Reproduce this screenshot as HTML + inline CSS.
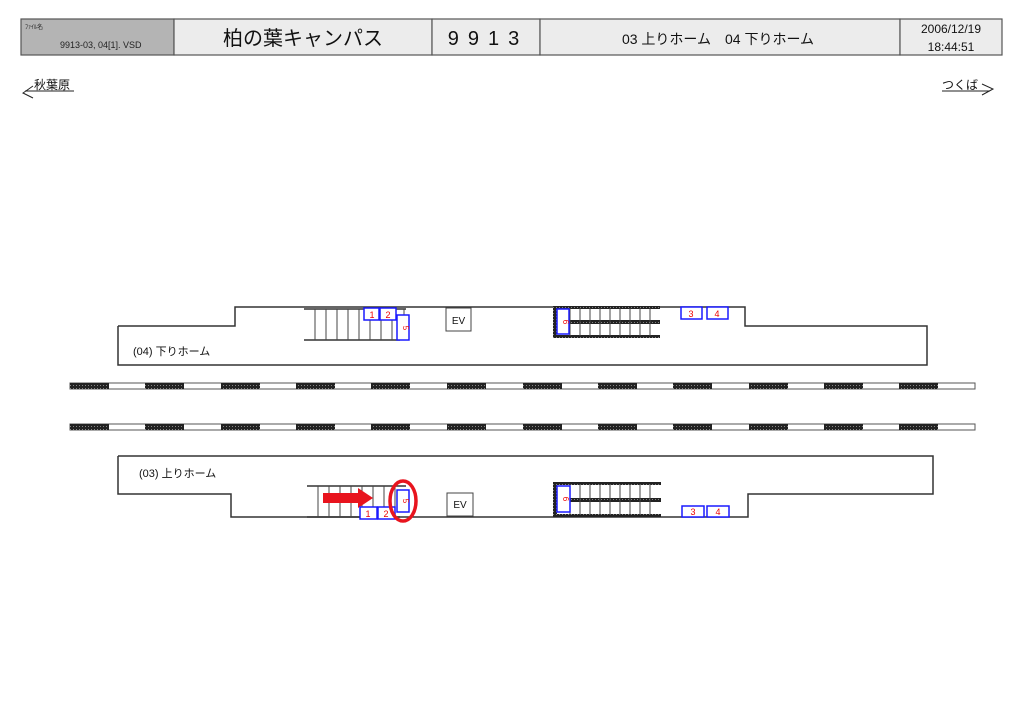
<!DOCTYPE html>
<html><head><meta charset="utf-8"><style>
html,body{margin:0;padding:0;background:#fff;width:1024px;height:724px;overflow:hidden}
svg{display:block}
text{font-family:"Liberation Sans","Noto Sans CJK JP",sans-serif}
</style></head><body>
<svg width="1024" height="724" viewBox="0 0 1024 724" xmlns="http://www.w3.org/2000/svg">
<defs>
<pattern id="h" width="3" height="3" patternUnits="userSpaceOnUse">
<rect width="3" height="3" fill="#222"/><rect x="1" y="1" width="0.8" height="0.8" fill="#bbb"/>
</pattern>
</defs>
<rect x="21" y="19" width="153" height="36" fill="#b4b4b4" stroke="#555" stroke-width="1.2"/>
<rect x="174" y="19" width="258" height="36" fill="#ececec" stroke="#555" stroke-width="1.2"/>
<rect x="432" y="19" width="108" height="36" fill="#ececec" stroke="#555" stroke-width="1.2"/>
<rect x="540" y="19" width="360" height="36" fill="#ececec" stroke="#555" stroke-width="1.2"/>
<rect x="900" y="19" width="102" height="36" fill="#ececec" stroke="#555" stroke-width="1.2"/>
<text x="25" y="29" font-size="6" fill="#222">ﾌｧｲﾙ名</text>
<text x="60" y="48" font-size="9" fill="#222">9913-03, 04[1]. VSD</text>
<text x="303" y="45" font-size="20" text-anchor="middle" fill="#111">柏の葉キャンパス</text>
<text x="488" y="45" font-size="20" text-anchor="middle" fill="#111" letter-spacing="9">9913</text>
<text x="718" y="44" font-size="14" text-anchor="middle" fill="#111">03 上りホーム　04 下りホーム</text>
<text x="951" y="33" font-size="12" text-anchor="middle" fill="#111">2006/12/19</text>
<text x="951" y="51" font-size="12" text-anchor="middle" fill="#111">18:44:51</text>
<text x="34" y="89" font-size="12" fill="#111">秋葉原</text>
<polyline points="74,91 25,91" fill="none" stroke="#222" stroke-width="1"/>
<polyline points="33,86 23,93 33,98" fill="none" stroke="#222" stroke-width="1"/>
<text x="942" y="89" font-size="12" fill="#111">つくば</text>
<line x1="942" y1="91" x2="990" y2="91" stroke="#222" stroke-width="1"/>
<polyline points="982,84 993,89 982,95" fill="none" stroke="#222" stroke-width="1"/>

<polyline points="118,326 235,326 235,307 745,307 745,326 927,326 927,365 118,365 118,326" fill="#fff" stroke="#333" stroke-width="1.5"/>
<text x="133" y="355" font-size="11" fill="#111">(04) 下りホーム</text>
<line x1="304" y1="309" x2="406" y2="309" stroke="#333" stroke-width="1.5"/>
<line x1="304" y1="340" x2="400" y2="340" stroke="#333" stroke-width="1.5"/>
<g stroke="#444" stroke-width="1">
<line x1="315" y1="309" x2="315" y2="340"/><line x1="326" y1="309" x2="326" y2="340"/><line x1="337" y1="309" x2="337" y2="340"/><line x1="348" y1="309" x2="348" y2="340"/><line x1="359" y1="309" x2="359" y2="340"/><line x1="370" y1="309" x2="370" y2="340"/><line x1="381" y1="309" x2="381" y2="340"/><line x1="392" y1="309" x2="392" y2="340"/><line x1="404" y1="309" x2="404" y2="316"/>
</g>
<g fill="#fff" stroke="#1a1aff" stroke-width="1.5">
<rect x="364" y="308" width="15" height="12"/><rect x="380" y="308" width="16" height="12"/><rect x="397" y="315" width="12" height="25"/>
</g>
<g fill="#e00" font-size="9" text-anchor="middle">
<text x="372" y="318">1</text><text x="388" y="318">2</text>
<text x="403" y="328" transform="rotate(90 403 328)" font-size="8">5</text>
</g>
<rect x="446" y="308" width="25" height="23" fill="#fff" stroke="#444" stroke-width="1"/>
<text x="458.5" y="324" font-size="10" text-anchor="middle" fill="#111">EV</text>
<rect x="553" y="306" width="107" height="3" fill="url(#h)"/>
<rect x="553" y="335" width="107" height="3" fill="url(#h)"/>
<rect x="553" y="320" width="107" height="4" fill="url(#h)"/>
<rect x="553" y="306" width="4" height="32" fill="url(#h)"/>
<g stroke="#444" stroke-width="1">
<line x1="570" y1="308" x2="570" y2="336"/><line x1="580" y1="308" x2="580" y2="336"/><line x1="590" y1="308" x2="590" y2="336"/><line x1="600" y1="308" x2="600" y2="336"/><line x1="610" y1="308" x2="610" y2="336"/><line x1="620" y1="308" x2="620" y2="336"/><line x1="630" y1="308" x2="630" y2="336"/><line x1="640" y1="308" x2="640" y2="336"/><line x1="650" y1="308" x2="650" y2="336"/>
</g>
<rect x="557" y="309" width="12" height="25" fill="#fff" stroke="#1a1aff" stroke-width="1.5"/>
<text x="563" y="322" transform="rotate(90 563 322)" font-size="8" fill="#e00" text-anchor="middle">6</text>
<g fill="#fff" stroke="#1a1aff" stroke-width="1.5">
<rect x="681" y="307" width="21" height="12"/><rect x="707" y="307" width="21" height="12"/>
</g>
<g fill="#e00" font-size="9" text-anchor="middle"><text x="691" y="317">3</text><text x="717" y="317">4</text></g>

<g id="trk">
<rect x="70" y="383" width="905" height="6" fill="#fff" stroke="#555" stroke-width="1"/>
<g fill="url(#h)">
<rect x="70" y="383" width="39" height="6"/><rect x="145" y="383" width="39" height="6"/><rect x="221" y="383" width="39" height="6"/><rect x="296" y="383" width="39" height="6"/><rect x="371" y="383" width="39" height="6"/><rect x="447" y="383" width="39" height="6"/><rect x="523" y="383" width="39" height="6"/><rect x="598" y="383" width="39" height="6"/><rect x="673" y="383" width="39" height="6"/><rect x="749" y="383" width="39" height="6"/><rect x="824" y="383" width="39" height="6"/><rect x="899" y="383" width="39" height="6"/>
</g>
</g>
<use href="#trk" y="41"/>

<polyline points="118,456 933,456 933,494 748,494 748,517 231,517 231,494 118,494 118,456" fill="#fff" stroke="#333" stroke-width="1.5"/>
<text x="139" y="477" font-size="11" fill="#111">(03) 上りホーム</text>
<line x1="307" y1="486" x2="406" y2="486" stroke="#333" stroke-width="1.5"/>
<line x1="307" y1="517" x2="400" y2="517" stroke="#333" stroke-width="1.5"/>
<g stroke="#444" stroke-width="1">
<line x1="318" y1="486" x2="318" y2="517"/><line x1="329" y1="486" x2="329" y2="517"/><line x1="340" y1="486" x2="340" y2="517"/><line x1="351" y1="486" x2="351" y2="517"/><line x1="362" y1="486" x2="362" y2="517"/><line x1="373" y1="486" x2="373" y2="517"/><line x1="384" y1="486" x2="384" y2="517"/><line x1="395" y1="486" x2="395" y2="517"/>
</g>
<polygon points="323,493 358,493 358,488 373,498 358,508 358,503 323,503" fill="#e8141e"/>
<g fill="#fff" stroke="#1a1aff" stroke-width="1.5">
<rect x="360" y="507" width="17" height="12"/><rect x="378" y="507" width="17" height="12"/><rect x="397" y="490" width="12" height="22"/>
</g>
<g fill="#e00" font-size="9" text-anchor="middle">
<text x="368" y="517">1</text><text x="386" y="517">2</text>
<text x="403" y="501" transform="rotate(90 403 501)" font-size="8">5</text>
</g>
<ellipse cx="403" cy="501" rx="13" ry="20" fill="none" stroke="#e8141e" stroke-width="3.5"/>
<rect x="447" y="493" width="26" height="23" fill="#fff" stroke="#444" stroke-width="1"/>
<text x="460" y="508" font-size="10" text-anchor="middle" fill="#111">EV</text>
<rect x="553" y="482" width="108" height="3" fill="url(#h)"/>
<rect x="553" y="514" width="108" height="3" fill="url(#h)"/>
<rect x="553" y="498" width="108" height="4" fill="url(#h)"/>
<rect x="553" y="482" width="4" height="35" fill="url(#h)"/>
<g stroke="#444" stroke-width="1">
<line x1="570" y1="484" x2="570" y2="515"/><line x1="580" y1="484" x2="580" y2="515"/><line x1="590" y1="484" x2="590" y2="515"/><line x1="600" y1="484" x2="600" y2="515"/><line x1="610" y1="484" x2="610" y2="515"/><line x1="620" y1="484" x2="620" y2="515"/><line x1="630" y1="484" x2="630" y2="515"/><line x1="640" y1="484" x2="640" y2="515"/><line x1="650" y1="484" x2="650" y2="515"/>
</g>
<rect x="557" y="486" width="13" height="26" fill="#fff" stroke="#1a1aff" stroke-width="1.5"/>
<text x="563" y="499" transform="rotate(90 563 499)" font-size="8" fill="#e00" text-anchor="middle">6</text>
<g fill="#fff" stroke="#1a1aff" stroke-width="1.5">
<rect x="682" y="506" width="22" height="11"/><rect x="707" y="506" width="22" height="11"/>
</g>
<g fill="#e00" font-size="9" text-anchor="middle"><text x="693" y="515">3</text><text x="718" y="515">4</text></g>
</svg>
</body></html>
